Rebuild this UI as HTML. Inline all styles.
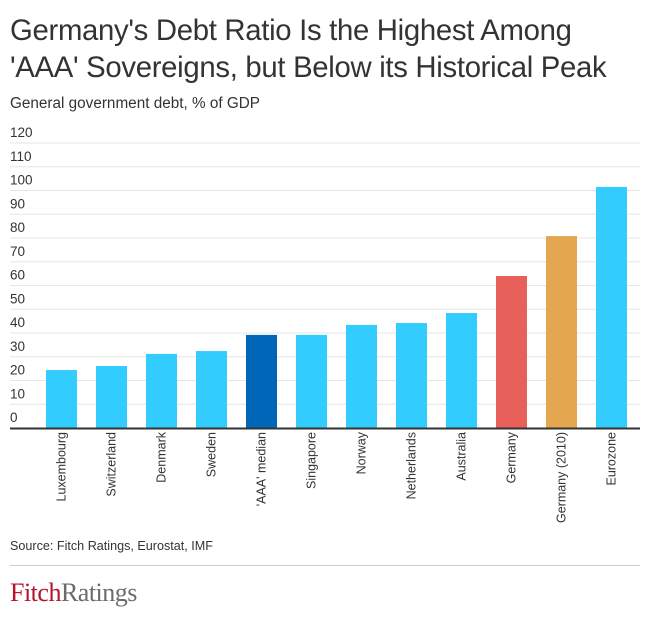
<!DOCTYPE html>
<html><head><meta charset="utf-8"><style>
body{margin:0;background:#fff;font-family:"Liberation Sans",sans-serif;}
#wrap{position:relative;width:650px;height:625px;overflow:hidden;}
.t{position:absolute;left:10px;color:#333;}
</style></head><body><div id="wrap">
<div class="t" style="top:12px;font-size:29.3px;line-height:37px;color:#333;letter-spacing:-0.3px">Germany's Debt Ratio Is the Highest Among<br>'AAA' Sovereigns, but Below its Historical Peak</div>
<div class="t" style="top:95px;font-size:15.3px">General government debt, % of GDP</div>
<svg id="c" width="650" height="540" style="position:absolute;left:0;top:0"></svg>
<div class="t" style="top:539px;font-size:12.6px">Source: Fitch Ratings, Eurostat, IMF</div>
<div style="position:absolute;left:10px;top:565px;width:630px;height:1px;background:#ccc"></div>
<div style="position:absolute;left:10px;top:578px;font-family:'Liberation Serif',serif;font-size:26px;letter-spacing:-0.5px"><span style="color:#b5142b">Fitch</span><span style="color:#6b6b6b">Ratings</span></div>
</div>
<script>
const categories=["Luxembourg","Switzerland","Denmark","Sweden","'AAA' median","Singapore","Norway","Netherlands","Australia","Germany","Germany (2010)","Eurozone"];
const values=[24.4,26.1,31.2,32.4,39.2,39.2,43.4,44.2,48.4,64,80.8,101.5];
const barColors=["#33ccff","#33ccff","#33ccff","#33ccff","#0066b8","#33ccff","#33ccff","#33ccff","#33ccff","#e8605a","#e4a64e","#33ccff"];
const ticks=[0,10,20,30,40,50,60,70,80,90,100,110,120];
const svg=document.getElementById('c');const NS="http://www.w3.org/2000/svg";
const y0=428,pxu=2.375;
function y(v){return y0-v*pxu;}
function x(i){return 46+i*50;}
function mk(t,a,txt){const e=document.createElementNS(NS,t);for(const k in a)e.setAttribute(k,a[k]);if(txt!=null)e.textContent=txt;svg.appendChild(e);return e;}
ticks.forEach(v=>{
 if(v>0){const g=mk('line',{x1:10,x2:640,y1:y(v),y2:y(v),stroke:'#e6e6e6','stroke-width':1});
 
 }
 const t=mk('text',{x:10,y:y(v)-6,'font-size':13.5,fill:'#333'},String(v));
 
 
});
values.forEach((v,i)=>{
 const r=mk('rect',{x:x(i),y:y(v),width:31,height:v*pxu,fill:barColors[i]});
 
 
 const cx=x(i)+15.5+4;
 const t=mk('text',{x:cx,y:432,'font-size':12.5,fill:'#333','text-anchor':'end',transform:'rotate(-90 '+cx+' 432)'},categories[i]);
 
 
});
const ax=mk('line',{x1:10,x2:640,y1:y0+0.5,y2:y0+0.5,stroke:'#333','stroke-width':2});


</script></body></html>
